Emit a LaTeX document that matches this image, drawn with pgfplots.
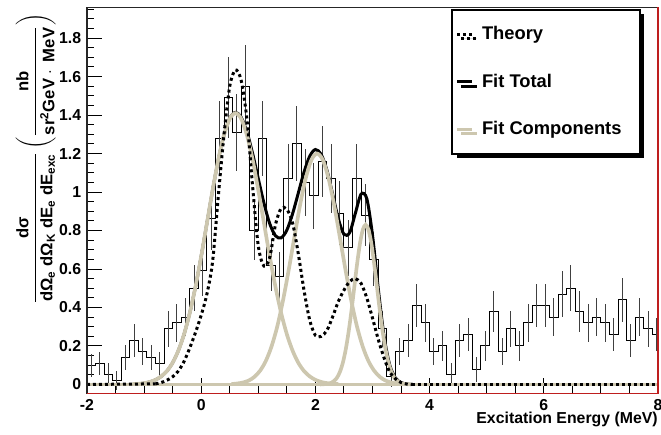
\documentclass[border=0pt]{standalone}
\usepackage{fontspec}
\setmainfont{Liberation Sans}
\usepackage{amsmath}
\usepackage{pgfplots}
\pgfplotsset{compat=1.18}
\usepackage{pgfplotstable}
\usetikzlibrary{shadows}
\definecolor{fitcomp}{RGB}{205,199,175}
\definecolor{rootred}{RGB}{190,30,30}

% histogram: bin low edge, bin centre, content, error
\pgfplotstableread{
lo c y e
-2.00 -1.925 0.10 0.06
-1.85 -1.775 0.11 0.06
-1.70 -1.625 0.05 0.06
-1.55 -1.475 0.02 0.05
-1.40 -1.325 0.14 0.065
-1.25 -1.175 0.23 0.085
-1.10 -1.025 0.17 0.07
-0.95 -0.875 0.14 0.065
-0.80 -0.725 0.11 0.06
-0.65 -0.575 0.29 0.093
-0.50 -0.425 0.32 0.098
-0.35 -0.275 0.35 0.10
-0.20 -0.125 0.50 0.12
-0.05 0.025 0.59 0.13
0.10 0.175 0.86 0.16
0.25 0.325 1.28 0.195
0.40 0.475 1.49 0.21
0.55 0.625 1.31 0.20
0.70 0.775 1.55 0.215
0.85 0.925 0.80 0.155
1.00 1.075 1.28 0.195
1.15 1.225 0.62 0.135
1.30 1.375 0.56 0.13
1.45 1.525 1.07 0.18
1.60 1.675 1.25 0.195
1.75 1.825 1.05 0.175
1.90 1.975 0.98 0.17
2.05 2.125 1.16 0.185
2.20 2.275 1.07 0.18
2.35 2.425 0.89 0.165
2.50 2.575 0.71 0.145
2.65 2.725 1.07 0.18
2.80 2.875 0.88 0.16
2.95 3.025 0.65 0.14
3.10 3.175 0.29 0.093
3.25 3.325 0.04 0.055
3.40 3.475 0.17 0.07
3.55 3.625 0.23 0.085
3.70 3.775 0.41 0.11
3.85 3.925 0.32 0.098
4.00 4.075 0.17 0.07
4.15 4.225 0.20 0.078
4.30 4.375 0.05 0.06
4.45 4.525 0.23 0.085
4.60 4.675 0.26 0.088
4.75 4.825 0.08 0.065
4.90 4.975 0.20 0.078
5.05 5.125 0.38 0.107
5.20 5.275 0.17 0.07
5.35 5.425 0.29 0.093
5.50 5.575 0.20 0.078
5.65 5.725 0.32 0.098
5.80 5.875 0.41 0.11
5.95 6.025 0.41 0.11
6.10 6.175 0.35 0.10
6.25 6.325 0.47 0.12
6.40 6.475 0.50 0.12
6.55 6.625 0.38 0.107
6.70 6.775 0.32 0.098
6.85 6.925 0.35 0.10
7.00 7.075 0.32 0.098
7.15 7.225 0.26 0.088
7.30 7.375 0.44 0.115
7.45 7.525 0.23 0.085
7.60 7.675 0.35 0.10
7.75 7.825 0.29 0.093
7.90 7.975 0.26 0.088
8.05 nan 0.26 nan
}\hist

\begin{document}
\begin{tikzpicture}
\begin{axis}[
  at={(0,0)}, anchor=south west,
  width=342.6pt, height=231.7pt, scale only axis,
  xmin=-2, xmax=8, ymin=-0.047, ymax=1.96,
  xtick={-2,0,2,4,6,8},
  ytick={0,0.2,0.4,0.6,0.8,1,1.2,1.4,1.6,1.8},
  minor xtick={-1.5,-1,...,7.5},
  minor ytick={0.05,0.1,...,1.96},
  xtick pos=bottom, ytick pos=left,
  tick align=inside,
  major tick length=9pt, minor tick length=4.5pt,
  tick style={black, line width=0.6pt},
  axis line style={draw=none},
  clip mode=individual,
  tick label style={font=\bfseries\fontsize{9.5}{11}\selectfont},
  /pgf/number format/assume math mode=true,
  xlabel={Excitation Energy (MeV)},
  xlabel style={at={(axis description cs:1,-0.048)}, anchor=north east,
    inner sep=0pt, font=\bfseries\fontsize{9.5}{11}\selectfont},
  ylabel={$\genfrac{}{}{0.8pt}{0}{\text{dσ}}{\text{dΩ\textsubscript{e} dΩ\textsubscript{K} dE\textsubscript{e} dE\textsubscript{exc}}}
    \left(\genfrac{}{}{0.8pt}{0}{\text{nb}}{\text{sr\textsuperscript{2}GeV}\cdot\text{ MeV}}\right)$},
  ylabel style={at={(axis description cs:-0.09,0.985)}, anchor=east,
    inner sep=0pt, font=\bfseries\fontsize{10}{12}\selectfont},
  legend style={at={(0.97,0.996)}, anchor=north east, draw=black,
    line width=1.2pt, fill=white, inner xsep=2pt, inner ysep=8pt,
    row sep=15pt, column sep=3pt, font=\bfseries\fontsize{11}{13}\selectfont,
    cells={anchor=west},
    drop shadow={shadow xshift=2.6pt, shadow yshift=-2.6pt, opacity=1, fill=black}},
  legend image code/.code={\draw[#1] (0cm,0cm) -- (0.32cm,0cm);},
]
\addlegendimage{black, line width=1.8pt, dash pattern=on 1.8pt off 1.8pt}
\addlegendentry{Theory}
\addlegendimage{black, line width=1.8pt}
\addlegendentry{Fit Total}
\addlegendimage{fitcomp, line width=1.5pt}
\addlegendentry{Fit Components\rule{7pt}{0pt}}

% data histogram and its error bars
\addplot[black, line width=0.6pt, const plot, forget plot] table[x=lo, y=y] {\hist};
\addplot[draw=none, mark=none, forget plot,
  error bars/.cd, y dir=both, y explicit, error mark=none,
  error bar style={draw=black!75, line width=0.6pt}] table[x=c, y=y, y error=e] {\hist};

% fit total
\addplot[black, line width=1.8pt, forget plot] coordinates {(-2,0)(-1.2,0)};
\addplot[black, line width=1.8pt, smooth, forget plot] coordinates {
(-1.2,0.002)(-1.1,0.003)(-1.0,0.007)(-0.9,0.013)(-0.8,0.024)(-0.7,0.042)
(-0.6,0.070)(-0.5,0.113)(-0.4,0.176)(-0.3,0.261)(-0.2,0.372)(-0.1,0.508)
(0.0,0.666)(0.1,0.838)(0.2,1.010)(0.3,1.169)(0.4,1.297)(0.5,1.383)
(0.6,1.414)(0.7,1.389)(0.8,1.313)(0.9,1.201)(1.0,1.069)(1.1,0.941)
(1.2,0.836)(1.3,0.773)(1.4,0.762)(1.5,0.802)(1.6,0.887)(1.7,0.994)
(1.8,1.103)(1.9,1.186)(2.0,1.221)(2.1,1.196)(2.2,1.115)(2.3,0.991)
(2.4,0.863)(2.5,0.780)(2.6,0.789)(2.7,0.890)(2.8,0.989)(2.9,0.966)
(3.0,0.776)(3.1,0.500)(3.2,0.255)(3.3,0.103)(3.4,0.034)(3.5,0.010)
(3.6,0.002)(3.7,0)};
\addplot[black, line width=1.8pt, forget plot] coordinates {(3.7,0)(8,0)};

% fit components
\addplot[fitcomp, line width=2.2pt, forget plot] coordinates {(-2,0)(8,0)};
\addplot[fitcomp, line width=2.2pt, smooth, forget plot] coordinates {
(-1.2,0.002)(-1.1,0.003)(-1.0,0.007)(-0.9,0.013)(-0.8,0.024)(-0.7,0.042)
(-0.6,0.070)(-0.5,0.113)(-0.4,0.176)(-0.3,0.261)(-0.2,0.372)(-0.1,0.508)
(0.0,0.666)(0.1,0.838)(0.2,1.010)(0.3,1.169)(0.4,1.297)(0.5,1.381)
(0.6,1.410)(0.7,1.381)(0.8,1.297)(0.9,1.169)(1.0,1.010)(1.1,0.838)
(1.2,0.666)(1.3,0.508)(1.4,0.372)(1.5,0.261)(1.6,0.176)(1.7,0.113)
(1.8,0.070)(1.9,0.042)(2.0,0.024)(2.1,0.013)(2.2,0.007)(2.3,0.003)(2.4,0.002)};
\addplot[fitcomp, line width=2.2pt, smooth, forget plot] coordinates {
(0.53,0.002)(0.63,0.005)(0.73,0.010)(0.83,0.020)(0.93,0.039)(1.03,0.071)
(1.13,0.121)(1.23,0.196)(1.33,0.299)(1.43,0.433)(1.53,0.591)(1.63,0.762)
(1.73,0.930)(1.83,1.071)(1.93,1.167)(2.03,1.200)(2.13,1.167)(2.23,1.071)
(2.33,0.930)(2.43,0.762)(2.53,0.591)(2.63,0.433)(2.73,0.299)(2.83,0.196)
(2.93,0.121)(3.03,0.071)(3.13,0.039)(3.23,0.020)(3.33,0.010)(3.43,0.005)(3.53,0.002)};
\addplot[fitcomp, line width=2.2pt, smooth, forget plot] coordinates {
(2.08,0)(2.13,0.001)(2.18,0.002)(2.23,0.004)(2.28,0.009)(2.33,0.019)
(2.38,0.036)(2.43,0.066)(2.48,0.112)(2.53,0.180)(2.58,0.270)(2.63,0.380)
(2.68,0.503)(2.73,0.626)(2.78,0.732)(2.83,0.804)(2.88,0.830)(2.93,0.804)
(2.98,0.732)(3.03,0.626)(3.08,0.503)(3.13,0.380)(3.18,0.270)(3.23,0.180)
(3.28,0.112)(3.33,0.066)(3.38,0.036)(3.43,0.019)(3.48,0.009)(3.53,0.004)
(3.58,0.002)(3.63,0.001)(3.68,0)};

% theory
\addplot[black, line width=1.8pt, dash pattern=on 1.8pt off 1.8pt, forget plot]
  coordinates {(-2,0)(-0.8,0.003)};
\addplot[black, line width=1.8pt, dash pattern=on 1.8pt off 1.8pt, smooth, forget plot] coordinates {
(-0.8,0.003)(-0.7,0.010)(-0.6,0.022)(-0.5,0.040)(-0.4,0.070)(-0.3,0.120)
(-0.2,0.190)(-0.1,0.270)(0.0,0.360)(0.1,0.470)(0.2,0.640)(0.3,0.980)
(0.4,1.300)(0.5,1.550)(0.6,1.635)(0.7,1.580)(0.8,1.380)(0.9,1.030)
(1.0,0.720)(1.1,0.615)(1.2,0.660)(1.3,0.830)(1.4,0.915)(1.5,0.910)
(1.6,0.840)(1.7,0.680)(1.8,0.490)(1.9,0.335)(2.0,0.255)(2.1,0.250)
(2.2,0.280)(2.3,0.350)(2.4,0.430)(2.5,0.490)(2.6,0.535)(2.7,0.550)
(2.8,0.525)(2.9,0.450)(3.0,0.345)(3.1,0.235)(3.2,0.140)(3.3,0.065)
(3.4,0.030)(3.5,0.010)(3.6,0.002)(3.7,0)};
\addplot[black, line width=1.8pt, dash pattern=on 1.8pt off 1.8pt, forget plot]
  coordinates {(3.7,0)(8,0)};

% frame
\draw[black!85, line width=1pt] (rel axis cs:0,0) -- (rel axis cs:0,1) -- (rel axis cs:1,1);
\draw[rootred, line width=0.7pt] (rel axis cs:0,0) -- (rel axis cs:1,0) -- (rel axis cs:1,1);
\end{axis}
\pgfresetboundingbox
\path (-52.2pt,-24.3pt) rectangle (344.4pt,236.1pt);
\end{tikzpicture}
\end{document}
